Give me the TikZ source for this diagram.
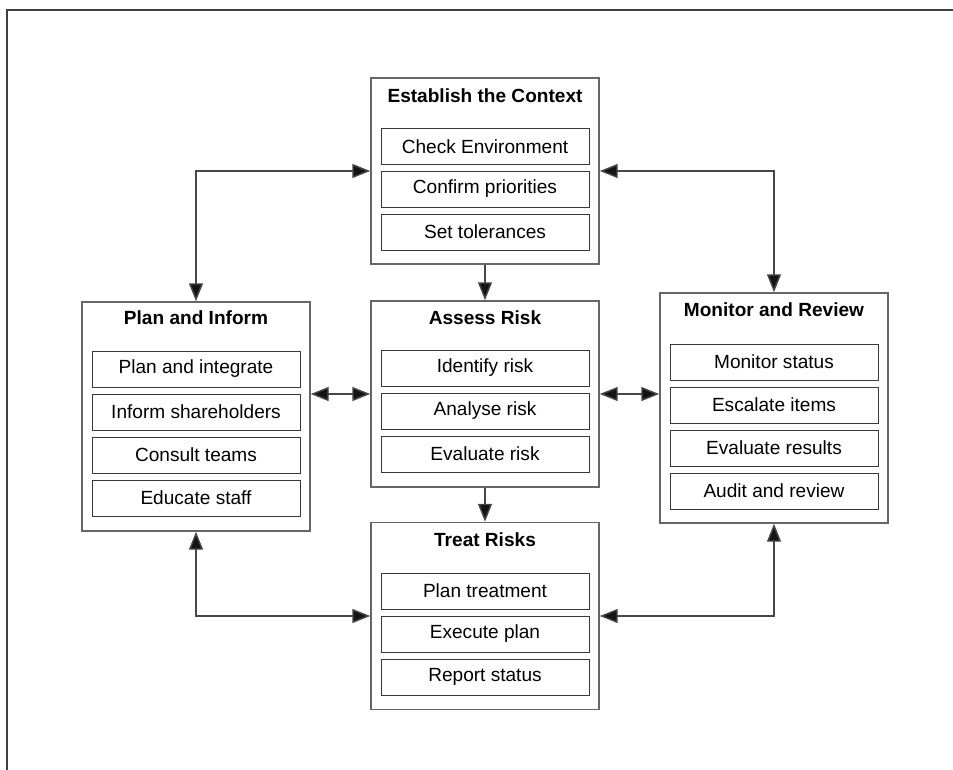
\documentclass[tikz,border=0pt]{standalone}
\usepackage{fontspec}
\setmainfont{Liberation Sans}
\usetikzlibrary{arrows.meta,calc}
\newcommand\pxu{0.75pt}
\tikzset{
  outerbox/.style={draw=black!60, line width=1.1pt, minimum width=228*\pxu, inner sep=0pt, fill=white},
  subbox/.style={draw=black!78, line width=0.7pt, minimum width=208*\pxu, minimum height=36*\pxu, inner sep=0pt, font=\fontsize{14.3}{16}\selectfont},
  ttl/.style={font=\bfseries\fontsize{14.3}{16}\selectfont, inner sep=0pt},
  tip/.tip={Triangle[length=13.5pt,width=10.5pt,fill=black!92]},
  conn/.style={draw=black!72, line width=1.1pt, -tip},
  dconn/.style={draw=black!72, line width=1.1pt, tip-tip},
}
\begin{document}
\begin{tikzpicture}[x=0.75pt,y=-0.75pt]
\useasboundingbox (0,0) rectangle (953,770);
\draw[black!75, line width=1.1pt] (953,10) -- (7,10) -- (7,770);

% outer boxes
\node[outerbox, minimum height=186*\pxu] (est) at (485,171) {};
\node[outerbox, minimum height=186*\pxu] (ass) at (485,394) {};
\node[outerbox, minimum height=187*\pxu] (trt) at (485,616) {};
\node[outerbox, minimum height=229*\pxu] (pln) at (196,416.5) {};
\node[outerbox, minimum height=230*\pxu] (mon) at (774,408) {};

% titles
\node[ttl] (estT) at (485,96) {Establish the Context};
\node[ttl] (assT) at (485,318) {Assess Risk};
\node[ttl] (trtT) at (485,540) {Treat Risks};
\node[ttl] (plnT) at (196,318) {Plan and Inform};
\node[ttl] (monT) at (774,310) {Monitor and Review};

% sub boxes
\node[subbox] (e1) at (485,146.5) {Check Environment};
\node[subbox] (e2) at (485,189) {Confirm priorities};
\node[subbox] (e3) at (485,232) {Set tolerances};

\node[subbox] (a1) at (485,368) {Identify risk};
\node[subbox] (a2) at (485,411) {Analyse risk};
\node[subbox] (a3) at (485,454) {Evaluate risk};

\node[subbox] (t1) at (485,591) {Plan treatment};
\node[subbox] (t2) at (485,634) {Execute plan};
\node[subbox] (t3) at (485,677) {Report status};

\node[subbox] (p1) at (196,369) {Plan and integrate};
\node[subbox] (p2) at (196,412) {Inform shareholders};
\node[subbox] (p3) at (196,455) {Consult teams};
\node[subbox] (p4) at (196,498) {Educate staff};

\node[subbox] (m1) at (774,362) {Monitor status};
\node[subbox] (m2) at (774,405) {Escalate items};
\node[subbox] (m3) at (774,448) {Evaluate results};
\node[subbox] (m4) at (774,491) {Audit and review};

% connectors
\draw[conn] (est.south) -- (ass.north);
\draw[conn] (ass.south) -- (trt.north);
\draw[dconn] (ass.west) -- (ass.west -| pln.east);
\draw[dconn] (ass.east) -- (ass.east -| mon.west);
\draw[dconn] (pln.north) |- (est.west);
\draw[dconn] (est.east) -| (mon.north);
\draw[dconn] (pln.south) |- (trt.west);
\draw[dconn] (trt.east) -| (mon.south);
\end{tikzpicture}
\end{document}
